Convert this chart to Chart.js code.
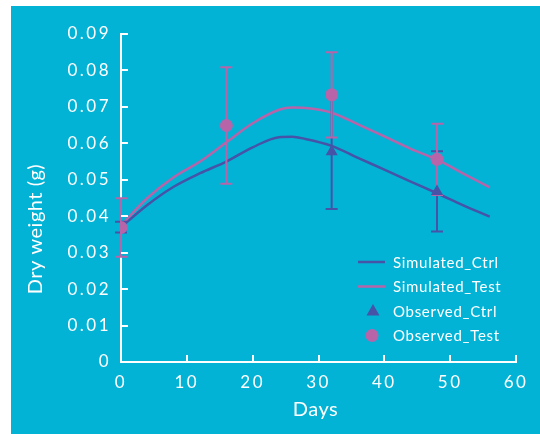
<!DOCTYPE html>
<html>
<head>
<meta charset="utf-8">
<script src="https://cdn.jsdelivr.net/npm/chart.js@4.4.1/dist/chart.umd.min.js"></script>
<style>
  html, body { margin: 0; padding: 0; background: #ffffff; }
  #wrap { width: 540px; height: 434px; position: relative; }
</style>
</head>
<body>
<div id="wrap"><canvas id="c" width="540" height="434"></canvas></div>
<script>
// ---- data ----
const simDays = [0, 4, 8, 12, 16, 20, 24, 26, 28, 32, 36, 40, 44, 48, 52, 56];
const simCtrl = [0.0370, 0.0431, 0.0481, 0.0518, 0.0550, 0.0589, 0.0617, 0.0618, 0.0612, 0.0593, 0.0560, 0.0528, 0.0495, 0.0463, 0.0430, 0.0399];
const simTest = [0.0375, 0.0450, 0.0507, 0.0550, 0.0603, 0.0655, 0.0692, 0.0698, 0.0697, 0.0684, 0.0652, 0.0619, 0.0585, 0.0555, 0.0517, 0.0479];
const obsDays = [0, 16, 32, 48];
const obsCtrl = [0.0370, null, 0.0577, 0.0468];
const obsCtrlErr = [0.0015, null, 0.0157, 0.0110];
const obsTest = [0.0369, 0.0649, 0.0733, 0.0556];
const obsTestErr = [0.0080, 0.0160, 0.0117, 0.0098];
const xTicks = [0, 10, 20, 30, 40, 50, 60];
const yTicks = [0, 0.01, 0.02, 0.03, 0.04, 0.05, 0.06, 0.07, 0.08, 0.09];
const seriesNames = ['Simulated_Ctrl', 'Simulated_Test', 'Observed_Ctrl', 'Observed_Test'];
const xTitle = 'Days';
const yTitle = 'Dry weight (g)';

const BG = '#02B3D6';
const BLUE = '#4653A6';
const PINK = '#B864A9';
const FONT = 'Lato, "Open Sans", sans-serif';

const toXY = (xs, ys) => xs.map((x, i) => ({ x: x, y: ys[i] }));

const panelPlugin = {
  id: 'panel',
  beforeDraw(chart) {
    const ctx = chart.ctx;
    ctx.save();
    ctx.fillStyle = '#ffffff';
    ctx.fillRect(0, 0, chart.width, chart.height);
    ctx.fillStyle = BG;
    ctx.fillRect(11, 6, chart.width - 11, chart.height - 6);
    ctx.restore();
    ctx.letterSpacing = '2.5px';
  },
  afterDraw(chart) {
    const ctx = chart.ctx;
    ctx.letterSpacing = '0px';
    const xs = chart.scales.x, ys = chart.scales.y;
    const ca = chart.chartArea;
    ctx.save();
    ctx.strokeStyle = '#ffffff';
    ctx.lineWidth = 2;
    // inward tick marks
    yTicks.forEach(v => {
      if (v === 0) return;
      const y = Math.round(ys.getPixelForValue(v));
      ctx.beginPath(); ctx.moveTo(ca.left, y); ctx.lineTo(ca.left + 7, y); ctx.stroke();
    });
    xTicks.forEach(v => {
      if (v === 0) return;
      const x = Math.round(xs.getPixelForValue(v));
      ctx.beginPath(); ctx.moveTo(x, ca.bottom); ctx.lineTo(x, ca.bottom - 7); ctx.stroke();
    });
    // axis titles
    ctx.fillStyle = '#ffffff';
    ctx.font = '20px ' + FONT;
    ctx.textAlign = 'center';
    ctx.textBaseline = 'alphabetic';
    ctx.letterSpacing = '0.5px';
    ctx.fillText(xTitle, (ca.left + ca.right) / 2 - 3, 416);
    ctx.save();
    ctx.translate(42, 229);
    ctx.rotate(-Math.PI / 2);
    ctx.fillText(yTitle, 0, 0);
    ctx.restore();
    // legend
    const lx = ca.right - 158, ly = ca.bottom - 100;
    const rows = [
      { t: 'line', c: BLUE }, { t: 'line', c: PINK },
      { t: 'tri', c: BLUE }, { t: 'circ', c: PINK }
    ];
    ctx.font = '15px ' + FONT;
    ctx.letterSpacing = '0.7px';
    ctx.textAlign = 'left';
    ctx.textBaseline = 'middle';
    rows.forEach((r, i) => {
      const y = ly + i * 24.5;
      ctx.fillStyle = r.c; ctx.strokeStyle = r.c;
      if (r.t === 'line') {
        ctx.lineWidth = 2.5;
        ctx.beginPath(); ctx.moveTo(lx, y); ctx.lineTo(lx + 27, y); ctx.stroke();
      } else if (r.t === 'tri') {
        const cx = lx + 15;
        ctx.beginPath(); ctx.moveTo(cx, y - 7); ctx.lineTo(cx + 6.5, y + 4.5); ctx.lineTo(cx - 6.5, y + 4.5); ctx.closePath(); ctx.fill();
      } else {
        ctx.beginPath(); ctx.arc(lx + 14, y, 6.5, 0, Math.PI * 2); ctx.fill();
      }
      ctx.fillStyle = '#ffffff';
      ctx.fillText(seriesNames[i], lx + 35, y + 1);
    });
    ctx.restore();
    ctx.letterSpacing = '0px';
  }
};

const errorBarPlugin = {
  id: 'errbars',
  beforeDatasetDraw(chart, args) {
    if (args.index !== 2) return;
    const ctx = chart.ctx;
    const xs = chart.scales.x, ys = chart.scales.y;
    const draw = (vals, errs, color) => {
      ctx.save();
      ctx.strokeStyle = color;
      ctx.lineWidth = 2;
      obsDays.forEach((d, i) => {
        if (vals[i] == null || errs[i] == null) return;
        const x = xs.getPixelForValue(d);
        const yt = ys.getPixelForValue(vals[i] + errs[i]);
        const yb = ys.getPixelForValue(vals[i] - errs[i]);
        ctx.beginPath();
        ctx.moveTo(x, yt); ctx.lineTo(x, yb);
        ctx.moveTo(x - 6, yt); ctx.lineTo(x + 6, yt);
        ctx.moveTo(x - 6, yb); ctx.lineTo(x + 6, yb);
        ctx.stroke();
      });
      ctx.restore();
    };
    draw(obsCtrl, obsCtrlErr, BLUE);
    draw(obsTest, obsTestErr, PINK);
  }
};

new Chart(document.getElementById('c'), {
  type: 'scatter',
  data: {
    datasets: [
      { label: seriesNames[0], type: 'line', data: toXY(simDays, simCtrl), borderColor: BLUE, borderWidth: 2.5, pointRadius: 0, cubicInterpolationMode: 'monotone', fill: false, order: 4 },
      { label: seriesNames[1], type: 'line', data: toXY(simDays, simTest), borderColor: PINK, borderWidth: 2.5, pointRadius: 0, cubicInterpolationMode: 'monotone', fill: false, order: 3 },
      { label: seriesNames[2], data: toXY(obsDays, obsCtrl), backgroundColor: BLUE, borderColor: BLUE, pointStyle: 'triangle', pointRadius: 7, borderWidth: 0, order: 2 },
      { label: seriesNames[3], data: toXY(obsDays, obsTest), backgroundColor: PINK, borderColor: PINK, pointStyle: 'circle', pointRadius: 6.5, borderWidth: 0, order: 1 }
    ]
  },
  options: {
    responsive: false,
    animation: false,
    devicePixelRatio: 1,
    layout: { padding: { left: 0, top: 34, right: 24, bottom: 0 } },
    plugins: { legend: { display: false }, tooltip: { enabled: false } },
    scales: {
      x: {
        type: 'linear', min: 0, max: 60,
        afterBuildTicks(s) { s.ticks = xTicks.map(v => ({ value: v })); },
        afterFit(s) { s.height = 72; },
        grid: { display: false, drawTicks: false },
        border: { display: true, color: '#ffffff', width: 2 },
        ticks: { color: '#ffffff', font: { family: FONT, size: 17 }, padding: 10, maxRotation: 0 }
      },
      y: {
        type: 'linear', min: 0, max: 0.09,
        afterBuildTicks(s) { s.ticks = yTicks.map(v => ({ value: v })); },
        afterFit(s) { s.width = 121; },
        grid: { display: false, drawTicks: false },
        border: { display: true, color: '#ffffff', width: 2 },
        ticks: { color: '#ffffff', font: { family: FONT, size: 17 }, padding: 10,
          callback: v => (Math.abs(v) < 1e-9 ? '0' : (Math.round(v * 100) / 100).toFixed(2)) }
      }
    }
  },
  plugins: [panelPlugin, errorBarPlugin]
});
</script>
</body>
</html>
